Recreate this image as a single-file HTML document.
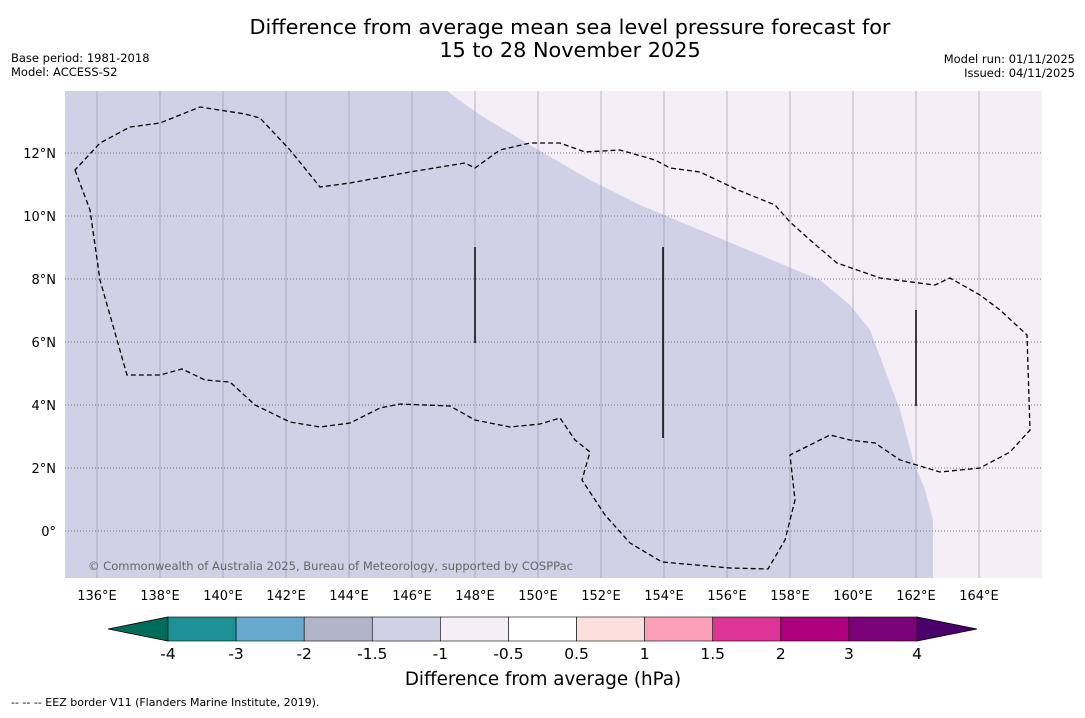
<!DOCTYPE html>
<html><head><meta charset="utf-8"><style>
body{margin:0;background:#fff;width:1085px;height:713px;overflow:hidden;font-family:"Liberation Sans","DejaVu Sans",sans-serif}
svg text{font-family:"DejaVu Sans","Liberation Sans",sans-serif}
</style></head><body>
<svg id="s" width="1085" height="713" xmlns="http://www.w3.org/2000/svg">
<text x="570" y="34" font-size="20.8" text-anchor="middle">Difference from average mean sea level pressure forecast for</text>
<text x="570" y="57" font-size="20.8" text-anchor="middle">15 to 28 November 2025</text>
<text x="11" y="62" font-size="11.5">Base period: 1981-2018</text>
<text x="11" y="76" font-size="11.5">Model: ACCESS-S2</text>
<text x="1075" y="63" font-size="11.5" text-anchor="end">Model run: 01/11/2025</text>
<text x="1075" y="77" font-size="11.5" text-anchor="end">Issued: 04/11/2025</text>
<g id="map">
<rect x="65" y="91" width="977" height="487" fill="#d0d1e6"/>
<polygon points="447,91 480,115 530,145 590,180 640,205 700,230 760,255 820,280 850,305 870,330 885,370 900,410 913,460 925,490 933,520 933,578 1042,578 1042,91" fill="#f4eef6"/>
</g>
<g id="grid"></g>
<path d="M75,170 L90,210 L100,280 L127,375 L160,375 L182,369 L205,380 L230,382 L255,405 L290,422 L320,427 L350,423 L380,408 L400,404 L450,406 L475,420 L510,427 L540,424 L560,418 L575,440 L590,452 L582,480 L605,515 L630,543 L662,562 L730,568 L768,569 L785,540 L795,500 L790,455 L800,450 L830,435 L850,440 L875,443 L900,460 L940,472 L980,468 L1010,452 L1030,430 L1027,335 L1000,310 L980,295 L950,278 L935,285 L880,278 L837,263 L810,240 L790,222 L775,205 L738,190 L700,172 L670,168 L655,160 L620,150 L585,152 L560,143 L530,143 L500,150 L475,168 L465,163 L410,172 L350,183 L320,187 L290,150 L260,118 L245,114 L200,107 L160,123 L130,127 L100,143 Z" fill="none" stroke="#000" stroke-width="1.3" stroke-dasharray="5,3"/>
<line x1="475" y1="247" x2="475" y2="343" stroke="#000" stroke-width="1.5"/>
<line x1="663" y1="247" x2="663" y2="438" stroke="#000" stroke-width="1.5"/>
<line x1="916" y1="310" x2="916" y2="406" stroke="#000" stroke-width="1.5"/>
<text x="88" y="570" font-size="11.5" fill="#666" textLength="485">© Commonwealth of Australia 2025, Bureau of Meteorology, supported by COSPPac</text>
<g id="cbar"></g>
<text x="543" y="685" font-size="18.3" text-anchor="middle">Difference from average (hPa)</text>
<text x="11" y="706" font-size="11">--  --  -- EEZ border V11 (Flanders Marine Institute, 2019).</text>
</svg>
<script>
const lonTicks=[136,138,140,142,144,146,148,150,152,154,156,158,160,162,164];
const latTicks=[12,10,8,6,4,2,0];
const cbLevels=["-4","-3","-2","-1.5","-1","-0.5","0.5","1","1.5","2","3","4"];
const cbColors=["#1d9195","#67a9cf","#b0b5ca","#d0d1e6","#f4eef6","#ffffff","#fde0dd","#fa9fb5","#dd3497","#ae017e","#7a0177"];
const NS="http://www.w3.org/2000/svg";
const X=lon=>97+(lon-136)*31.5, Y=lat=>531-lat*31.5;
function mk(t,a,p){const e=document.createElementNS(NS,t);for(const k in a)e.setAttribute(k,a[k]);p.appendChild(e);return e;}
const g=document.getElementById('grid');
lonTicks.forEach(l=>{
 const ln=mk('line',{x1:X(l),x2:X(l),y1:91,y2:578,stroke:'#9a9ab0','stroke-width':0.7},g);
 
 
 const t=mk('text',{x:X(l),y:600,'font-size':13,'text-anchor':'middle'},g);t.textContent=l+'°E';
 
 
});
latTicks.forEach(l=>{
 const ln=mk('line',{x1:65,x2:1042,y1:Y(l),y2:Y(l),stroke:'#555','stroke-width':0.8,'stroke-dasharray':'1,2'},g);
 
 
 const t=mk('text',{x:56,y:Y(l)+5,'font-size':13,'text-anchor':'end'},g);t.textContent=l===0?'0°':l+'°N';
 
 
});
const c=document.getElementById('cbar');const x0=168,w=(917-168)/cbColors.length,y0=617,h=24;
const lt=mk('polygon',{points:`108,${y0+h/2} ${x0},${y0} ${x0},${y0+h}`,fill:'#016c59',stroke:'#000','stroke-width':0.8},c);


const rt=mk('polygon',{points:`977,${y0+h/2} 917,${y0} 917,${y0+h}`,fill:'#49006a',stroke:'#000','stroke-width':0.8},c);


cbColors.forEach((col,i)=>{
 const r=mk('rect',{x:x0+i*w,y:y0,width:w,height:h,fill:col,stroke:'#000','stroke-width':0.6},c);
 
 
});
cbLevels.forEach((v,i)=>{
 const t=mk('text',{x:x0+i*w,y:659,'font-size':15.5,'text-anchor':'middle'},c);t.textContent=v;
 
 
});
</script>
</body></html>
